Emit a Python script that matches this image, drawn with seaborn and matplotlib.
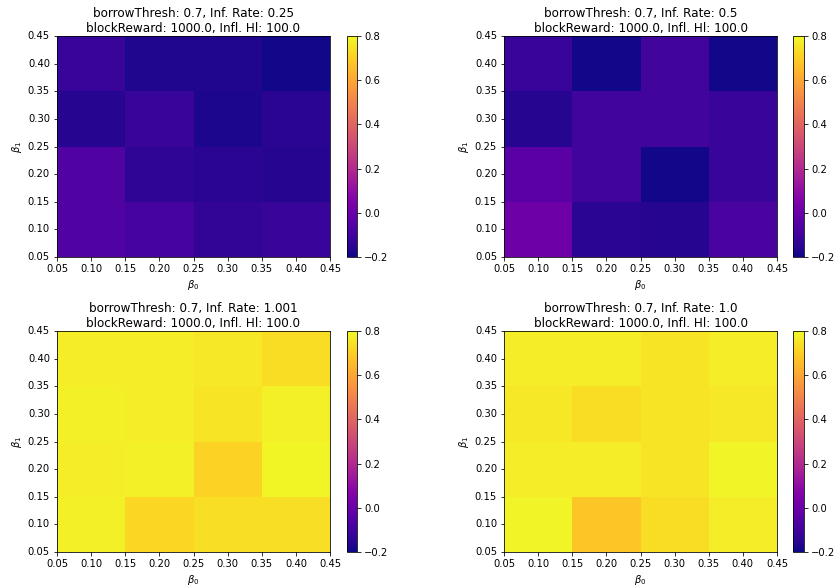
import numpy as np
import pandas as pd
import matplotlib
matplotlib.use("Agg")
import matplotlib.pyplot as plt
import seaborn as sns

# grid of beta values (cell centres) and the tick edges
beta0 = [0.1, 0.2, 0.3, 0.4]
beta1 = [0.1, 0.2, 0.3, 0.4]
edges = [0.05, 0.10, 0.15, 0.20, 0.25, 0.30, 0.35, 0.40, 0.45]

inf_rates = ["0.25", "0.5", "1.001", "1.0"]

# rows go from beta1 = 0.1 (bottom) to beta1 = 0.4 (top)
grid_025 = [[-0.06, -0.09, -0.13, -0.12],
            [-0.06, -0.14, -0.15, -0.16],
            [-0.16, -0.12, -0.18, -0.15],
            [-0.12, -0.17, -0.17, -0.19]]
grid_05 = [[0.01, -0.15, -0.16, -0.08],
           [-0.04, -0.10, -0.19, -0.12],
           [-0.16, -0.10, -0.10, -0.12],
           [-0.12, -0.19, -0.10, -0.19]]
grid_1001 = [[0.78, 0.72, 0.74, 0.74],
             [0.77, 0.78, 0.71, 0.79],
             [0.78, 0.77, 0.75, 0.78],
             [0.77, 0.77, 0.76, 0.73]]
grid_10 = [[0.785, 0.68, 0.73, 0.77],
           [0.77, 0.77, 0.75, 0.785],
           [0.76, 0.73, 0.75, 0.76],
           [0.77, 0.77, 0.75, 0.77]]
grids = [grid_025, grid_05, grid_1001, grid_10]

W, H = 836, 588
fig = plt.figure(figsize=(W / 72, H / 72), dpi=72)

# pixel boxes: (axes left, axes right, top, bottom, cbar left, cbar right)
boxes = [(57, 330, 36, 257, 347, 357),
         (504, 777, 36, 257, 793, 804),
         (57, 330, 331, 552, 347, 357),
         (504, 777, 331, 552, 793, 804)]

cell = beta0[1] - beta0[0]
tick_pos = [(e - edges[0]) / cell for e in edges]
tick_lab = ["%.2f" % e for e in edges]

for grid, rate, (l, r, t, b, cl, cr) in zip(grids, inf_rates, boxes):
    ax = fig.add_axes([l / W, 1 - b / H, (r - l) / W, (b - t) / H])
    cax = fig.add_axes([cl / W, 1 - b / H, (cr - cl) / W, (b - t) / H])
    df = pd.DataFrame(grid, index=beta1, columns=beta0)
    sns.heatmap(df, ax=ax, cbar_ax=cax, cmap="plasma", vmin=-0.2, vmax=0.8)
    ax.set_ylim(0, len(beta1))
    ax.set_xticks(tick_pos)
    ax.set_xticklabels(tick_lab, rotation=0)
    ax.set_yticks(tick_pos)
    ax.set_yticklabels(tick_lab, rotation=0)
    for s in ax.spines.values():
        s.set_visible(True)
        s.set_linewidth(0.8)
    ax.set_xlabel(r"$\beta_0$")
    ax.set_ylabel(r"$\beta_1$")
    ax.set_title("borrowThresh: 0.7, Inf. Rate: %s\nblockReward: 1000.0, Infl. Hl: 100.0" % rate,
                 fontsize=12, pad=4)
    cb = ax.collections[0].colorbar
    cb.outline.set_visible(True)
    cb.outline.set_linewidth(0.8)
    cb.set_ticks([-0.2, 0.0, 0.2, 0.4, 0.6, 0.8])
    cax.tick_params(labelsize=10)

fig.savefig("out.png", dpi=72)
